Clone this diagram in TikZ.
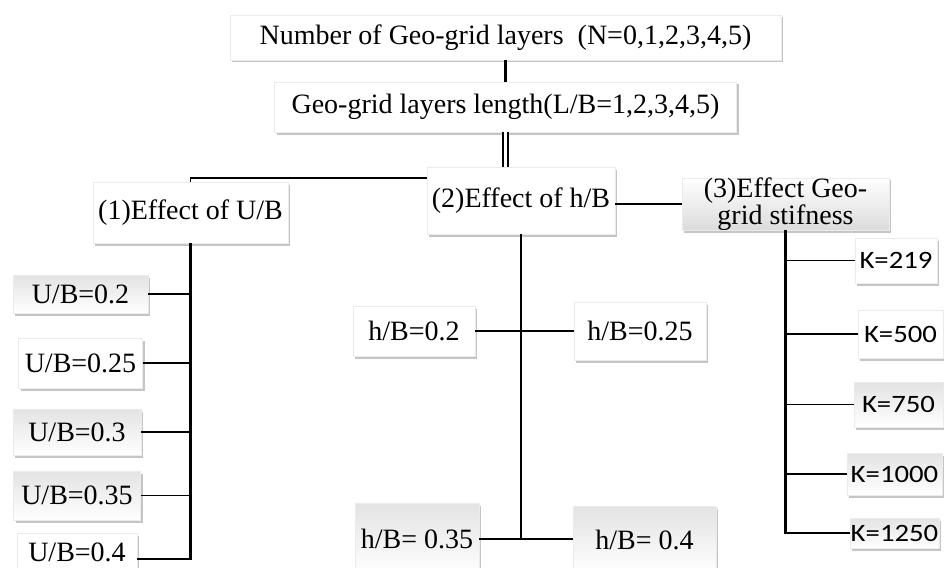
\documentclass[tikz,border=0pt]{standalone}
\usepackage{fontspec}
\setmainfont{Liberation Serif}
\newfontfamily\kfont{Carlito}[FakeStretch=1.15]
\usetikzlibrary{positioning,shadows}

\tikzset{
  box/.style={fill=white,draw=black!8,line width=.4pt,inner sep=0pt,
    drop shadow={shadow xshift=2pt,shadow yshift=-2.5pt,fill=black!45,opacity=.5}},
  wh/.style 2 args={minimum width=#1pt,minimum height=#2pt},
  gtop/.style={box,top color=black!11,middle color=white,bottom color=white},
  gbot/.style={box,top color=white,middle color=white,bottom color=black!14},
  kbox/.style={font=\kfont\fontsize{25}{25}\selectfont},
  stem/.style={line width=2.3pt},
  link/.style={line width=1.7pt}
}

\begin{document}
\begin{tikzpicture}[x=1pt,y=-1pt,on grid,font=\fontsize{28}{25}\selectfont]
    \useasboundingbox (0,0) rectangle (944,567);
		\node[box,wh={551}{45}] (n) at (505.5,37.5) {Number of Geo-grid layers ~(N=0,1,2,3,4,5)};
		\node[box,wh={462}{50}] (l) [below=69.5pt of n] {Geo-grid layers length(L/B=1,2,3,4,5)};
		\node[box,wh={188}{67}] (e2) [below right=93.5pt and 15.5pt of l] {(2)Effect of h/B};
		\node[box,wh={195}{61}] (e1) [below left=12pt and 330.5pt of e2] {(1)Effect of U/B};
		\node[gbot,wh={207}{52},align=center] (e3) [below right=3.5pt and 264.5pt of e2] {(3)Effect Geo-\\grid stifness};
		% U/B column
		\node[gtop,wh={135}{38}] (u1) [below left=81.5pt and 110pt of e1] {U/B=0.2};
		\node[box,wh={124}{50}] (u2) [below=69pt of u1] {U/B=0.25};
		\node[gtop,wh={128}{46}] (u3) [below left=69pt and 3.5pt of u2] {U/B=0.3};
		\node[gtop,wh={127}{49}] (u4) [below=63.5pt of u3] {U/B=0.35};
		\node[box,wh={120}{38}] (u5) [below=56.5pt of u4] {U/B=0.4};
		% h/B
		\node[box,wh={122}{50}] (h1) [below left=130.5pt and 107pt of e2] {h/B=0.2};
		\node[box,wh={132}{58}] (h2) [right=226pt of h1] {h/B=0.25};
		\node[gtop,wh={124}{72}] (h3) [below right=208pt and 3pt of h1] {h/B= 0.35};
		\node[gtop,wh={143}{68}] (h4) [below right=209pt and 4.5pt of h2] {h/B= 0.4};
		% stiffness
		\node[box,kbox,wh={82}{45}] (k1) [below right=56.5pt and 110.5pt of e3] {K=219};
		\node[box,kbox,wh={85}{48}] (k2) [below right=73.5pt and 4.5pt of k1] {K=500};
		\node[gtop,kbox,wh={89}{45}] (k3) [below left=70.5pt and 2pt of k2] {K=750};
		\node[gtop,kbox,wh={95}{42}] (k4) [below left=69.5pt and 4pt of k3] {K=1000};
		\node[gtop,kbox,wh={89}{30}] (k5) [below=59pt of k4] {K=1250};

		\draw[stem] (n) -- (l);
		\draw[double,double distance=3.5pt,line width=1.4pt] (l.south) -- (l.south |- e2.north);
		\draw[link] ([yshift=-11pt]e2.north west) -| (e1.north);
		\draw[link] (e3.west) -- (e3.west -| e2.east);
		\draw[stem] (e1.south) |- ([yshift=-7pt]u5.east);
		\foreach \i in {1,...,4}
		  \draw[link] (u\i.east) -- (u\i.east -| e1.south);
		\draw[stem] (e2.south) -- (e2.south |- h3.east);
		\draw[link] (h1.east) -- (h2.west);
		\draw[link] (h3.east) -- (h3.east -| h4.west);
		\draw[stem] (e3.south) |- (k5.west);
		\foreach \i in {1,...,4}
		  \draw[link] (k\i.west) -- (k\i.west -| e3.south);
\end{tikzpicture}
\end{document}
